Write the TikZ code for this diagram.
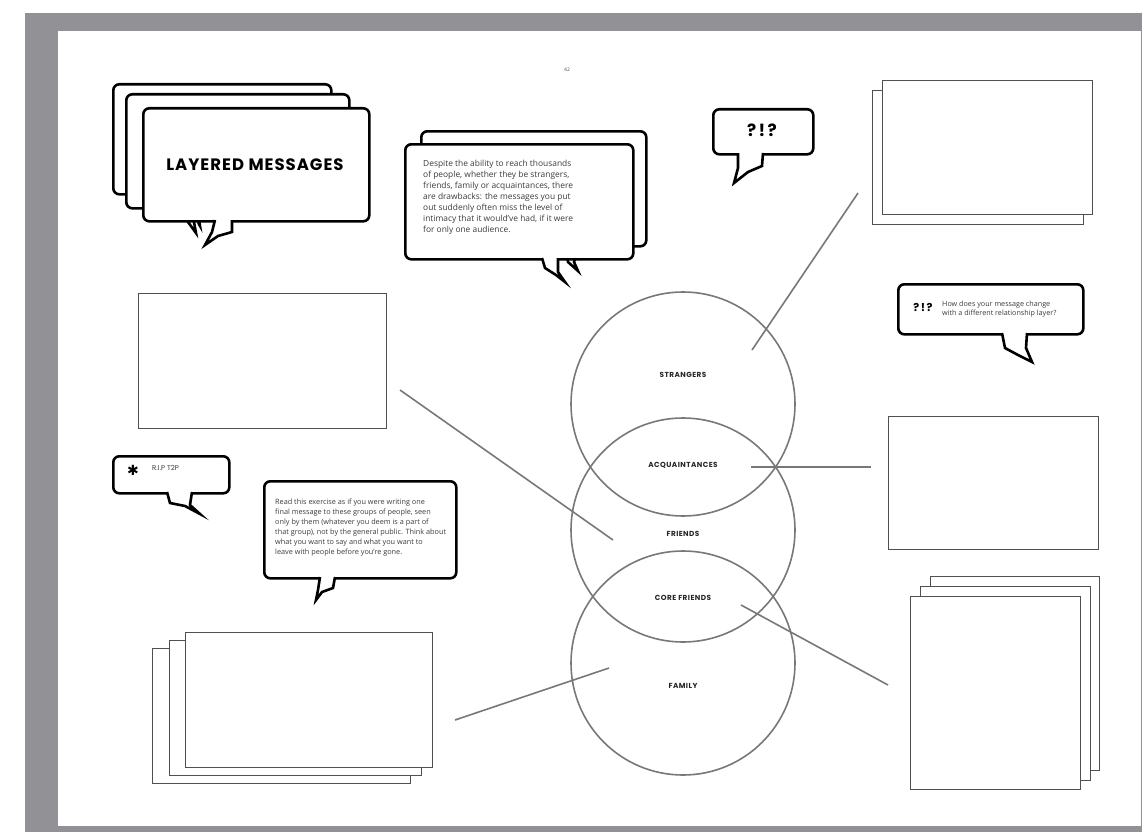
\documentclass[tikz,border=0pt]{standalone}
\usepackage{fontspec}
\setmainfont{Open Sans}
\newfontfamily\popp{Poppins}
\newfontfamily\poppw[LetterSpace=6]{Poppins}
\newfontfamily\poppq[LetterSpace=14]{Poppins}
\newfontfamily\djv{DejaVu Sans}
\definecolor{framegray}{RGB}{146,146,150}
\definecolor{linegray}{RGB}{120,120,120}
\definecolor{boxgray}{RGB}{80,80,80}
\definecolor{txtgray}{RGB}{60,60,60}
\tikzset{
  bub/.style={draw=black, fill=white, line width=2.6pt, rounded corners=6pt, rectangle, inner sep=0pt, anchor=north west},
  taildraw/.style={draw=black, line width=2.6pt, line join=miter},
  box/.style={draw=boxgray, fill=white, line width=1.3pt, rectangle, inner sep=0pt, anchor=north west},
  circ/.style={draw=linegray, line width=1.6pt, circle, minimum size=224pt, inner sep=0pt},
  conn/.style={draw=linegray, line width=1.6pt},
  lab/.style={font=\poppw\bfseries\fontsize{7.3}{8}\selectfont, text=black!85, inner sep=0pt},
  body/.style={align=left, inner sep=0pt, anchor=north west, text=txtgray}
}
\newcommand\mkbox[6][box]{\node[#1, minimum width={(#5-#3)*1pt}, minimum height={(#6-#4)*1pt}] (#2) at (#3,#4) {};}
\begin{document}
\begin{tikzpicture}[x=1pt,y=-1pt]
\useasboundingbox (0,0) rectangle (1142,832);
\fill[white] (0,0) rectangle (1142,832);
\fill[framegray] (25,13) rectangle (1142,832);
\fill[white] (58,31) rectangle (1141,826);

\node[font=\fontsize{5}{6}\selectfont, text=black!70] (pnum) at (567,70) {42};

% ---- Layered messages stack
\mkbox[bub]{lm3}{112}{83}{330}{193}
\fill[white] (190,190) -- (192,212) -- (200,224) -- (204,190) -- cycle;
\draw[taildraw] (190,193) -- (192,212) -- (200,226) -- (198,214) -- (204,193);
\mkbox[bub]{lm2}{125}{93}{348}{207}
\fill[white] (186,204) -- (188,222) -- (196,232) -- (200,204) -- cycle;
\draw[taildraw] (186,207) -- (188,222) -- (196,233) -- (194,222) -- (200,207);
\mkbox[bub]{lm1}{142}{107}{368}{220}
\fill[white] (215,218) -- (212,232) -- (205,245) -- (218,236) -- (232,232) -- (232,218) -- cycle;
\draw[taildraw] (215,220) -- (212,232) -- (205,245) -- (218,236) -- (232,232) -- (232,220);
\node[font=\poppw\bfseries\fontsize{16.5}{18}\selectfont, inner sep=0pt] (title) at (255,165) {LAYERED MESSAGES};

% ---- Text bubble (top)
\mkbox[bub]{tb2}{420}{130}{645}{245}
\fill[white] (565,243) -- (568,262) -- (578,270) -- (580,243) -- cycle;
\draw[taildraw] (565,245) -- (568,262) -- (578,271) -- (574,262) -- (580,245);
\mkbox[bub]{tb1}{404}{143}{632}{258}
\fill[white] (542,256) -- (545,268) -- (556,275) -- (565,282) -- (558,272) -- (558,256) -- cycle;
\draw[taildraw] (542,258) -- (545,268) -- (556,275) -- (565,282) -- (558,272) -- (558,258);
\node[body, font=\fontsize{8.4}{11}\selectfont] (tbtext) at (423,160) {Despite the ability to reach thousands\\of people, whether they be strangers,\\friends, family or acquaintances, there\\are drawbacks: the messages you put\\out suddenly often miss the level of\\intimacy that it would've had, if it were\\for only one audience.};

% ---- ?!? bubble
\mkbox[bub]{qb}{712}{108}{812}{153}
\fill[white] (738,151) -- (738,168) -- (734,183) -- (748,172) -- (762,166) -- (763,151) -- cycle;
\draw[taildraw] (738,153) -- (738,168) -- (734,183) -- (748,172) -- (762,166) -- (763,153);
\node[font=\poppq\bfseries\fontsize{17}{18}\selectfont, inner sep=0pt] (qtext) at (762,130) {?!?};

% ---- ?!? how does bubble
\mkbox[bub]{hb}{897}{283}{1082}{333}
\fill[white] (1002,331) -- (1005,348) -- (1018,355) -- (1032,362) -- (1026,348) -- (1027,331) -- cycle;
\draw[taildraw] (1002,333) -- (1005,348) -- (1018,355) -- (1032,362) -- (1026,348) -- (1027,333);
\node[font=\poppq\bfseries\fontsize{11}{12}\selectfont, inner sep=0pt] (hq) at (923,307) {?!?};
\node[body, anchor=west, font=\fontsize{7.2}{8.5}\selectfont] (htext) at (942,309) {How does your message change\\with a different relationship layer?};

% ---- R.I.P bubble
\mkbox[bub]{rb}{112}{455}{228}{492}
\fill[white] (167,490) -- (170,503) -- (185,506) -- (200,514) -- (190,505) -- (192,490) -- cycle;
\draw[taildraw] (167,492) -- (170,503) -- (185,506) -- (200,514) -- (190,505) -- (192,492);
\node[font=\djv\bfseries\fontsize{14}{16}\selectfont, inner sep=0pt] (ast) at (133,470) {✱};
\node[font=\popp\fontsize{7}{8}\selectfont, anchor=west, inner sep=0pt, text=txtgray] (rip) at (152,468) {R.I.P T2P};

% ---- Lower text bubble
\mkbox[bub]{lb}{263}{480}{455}{577}
\fill[white] (320,575) -- (318,590) -- (316,600) -- (322,592) -- (333,588) -- (335,575) -- cycle;
\draw[taildraw] (320,577) -- (318,590) -- (316,600) -- (322,592) -- (333,588) -- (335,577);
\node[body, font=\fontsize{7.3}{10}\selectfont] (lbtext) at (275,499) {Read this exercise as if you were writing one\\final message to these groups of people, seen\\only by them (whatever you deem is a part of\\that group), not by the general public. Think about\\what you want to say and what you want to\\leave with people before you're gone.};

% ---- Rectangles
\mkbox{trb}{872}{90}{1083}{224}
\mkbox{trf}{882}{80}{1092}{214}
\mkbox{lrect}{138}{293}{386}{428}
\mkbox{mrect}{888}{416}{1098}{549}
\mkbox{brb}{930}{576}{1099}{770}
\mkbox{brm}{920}{586}{1090}{780}
\mkbox{brf}{910}{596}{1080}{789}
\mkbox{blb}{152}{648}{410}{783}
\mkbox{blm}{169}{640}{421}{775}
\mkbox{blf}{185}{632}{432}{767}

% ---- Circles
\node[circ] (c1) at (683,404) {};
\node[circ] (c2) at (683,530) {};
\node[circ] (c3) at (683,663) {};
\node[lab] (strangers) at (683,375) {STRANGERS};
\node[lab] (acq) at (683,465) {ACQUAINTANCES};
\node[lab] (friends) at (683,534) {FRIENDS};
\node[lab] (core) at (683,598) {CORE FRIENDS};
\node[lab] (family) at (683,686) {FAMILY};

% ---- Connectors
\coordinate (s1) at (752,350); \coordinate (t1) at (858,193);
\coordinate (s2) at (613,540); \coordinate (t2) at (400,390);
\coordinate (s3) at (751,467); \coordinate (t3) at (871,467);
\coordinate (s4) at (741,605); \coordinate (t4) at (888,685);
\coordinate (s5) at (609,668); \coordinate (t5) at (455,720);
\draw[conn] (s1) -- (t1);
\draw[conn] (s2) -- (t2);
\draw[conn] (s3) -- (t3);
\draw[conn] (s4) -- (t4);
\draw[conn] (s5) -- (t5);
\end{tikzpicture}
\end{document}
